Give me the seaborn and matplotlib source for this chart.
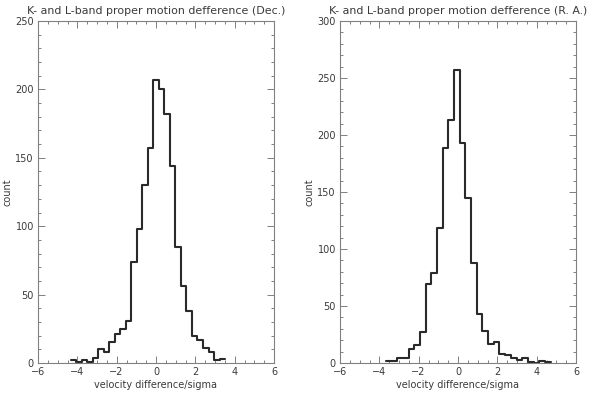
import numpy as np
import pandas as pd
import seaborn as sns
import matplotlib
matplotlib.use("Agg")
import matplotlib.pyplot as plt
from matplotlib.ticker import MultipleLocator

# ---- data ----
dec_start = -4.33
dec_width = 0.28
dec_counts = [2, 1, 2, 1, 4, 10, 8, 15, 21, 25, 31, 74, 98, 130, 157, 207,
              200, 182, 144, 85, 56, 38, 20, 17, 11, 8, 2, 3]

ra_start = -3.66
ra_width = 0.2885
ra_counts = [2, 2, 4, 4, 12, 16, 27, 69, 79, 118, 189, 213, 257, 193, 145,
             88, 43, 28, 17, 18, 8, 7, 4, 3, 4, 1, 0, 2, 1]

titles = ["K- and L-band proper motion defference (Dec.)",
          "K- and L-band proper motion defference (R. A.)"]
xlabel = "velocity difference/sigma"
ylabel = "count"
ylims = [250, 300]

sns.set_style("ticks")
plt.rcParams["font.family"] = ["DejaVu Sans"]

fig = plt.figure(figsize=(5.9, 3.97), dpi=100)
ax1 = fig.add_axes([38/590, 1-363/397, 236/590, 342/397])
ax2 = fig.add_axes([340/590, 1-363/397, 236/590, 342/397])

text_col = "#3a3a3a"
frame_col = "#808080"
line_col = "#2a2a2a"

def make_df(start, width, counts):
    n = len(counts)
    edges = start + width * np.arange(n + 1)
    centers = (edges[:-1] + edges[1:]) / 2
    return pd.DataFrame({"x": centers, "w": counts}), [float(e) for e in edges]

for ax, (start, width, counts), title, ymax in zip(
        [ax1, ax2],
        [(dec_start, dec_width, dec_counts), (ra_start, ra_width, ra_counts)],
        titles, ylims):
    df, edges = make_df(start, width, counts)
    sns.histplot(data=df, x="x", weights="w", bins=edges, element="step",
                 fill=False, color=line_col, linewidth=1.5, ax=ax)
    ax.set_xlim(-6, 6)
    ax.set_ylim(0, ymax)
    ax.xaxis.set_major_locator(MultipleLocator(2))
    ax.xaxis.set_minor_locator(MultipleLocator(0.5))
    ax.yaxis.set_major_locator(MultipleLocator(50))
    ax.yaxis.set_minor_locator(MultipleLocator(10))
    ax.tick_params(which="both", direction="in", top=True, right=True,
                   color=frame_col, labelcolor=text_col, labelsize=7,
                   width=0.7)
    ax.tick_params(which="major", length=5, pad=3)
    ax.tick_params(which="minor", length=2.5)
    for s in ax.spines.values():
        s.set_visible(True)
        s.set_color(frame_col)
        s.set_linewidth(0.8)
    ax.set_title(title, fontsize=7.9, color=text_col, pad=5)
    ax.set_xlabel(xlabel, fontsize=7, color=text_col, labelpad=2)
    ax.set_ylabel(ylabel, fontsize=7, color=text_col, labelpad=2)

fig.savefig("out.png", dpi=100, facecolor="white")
